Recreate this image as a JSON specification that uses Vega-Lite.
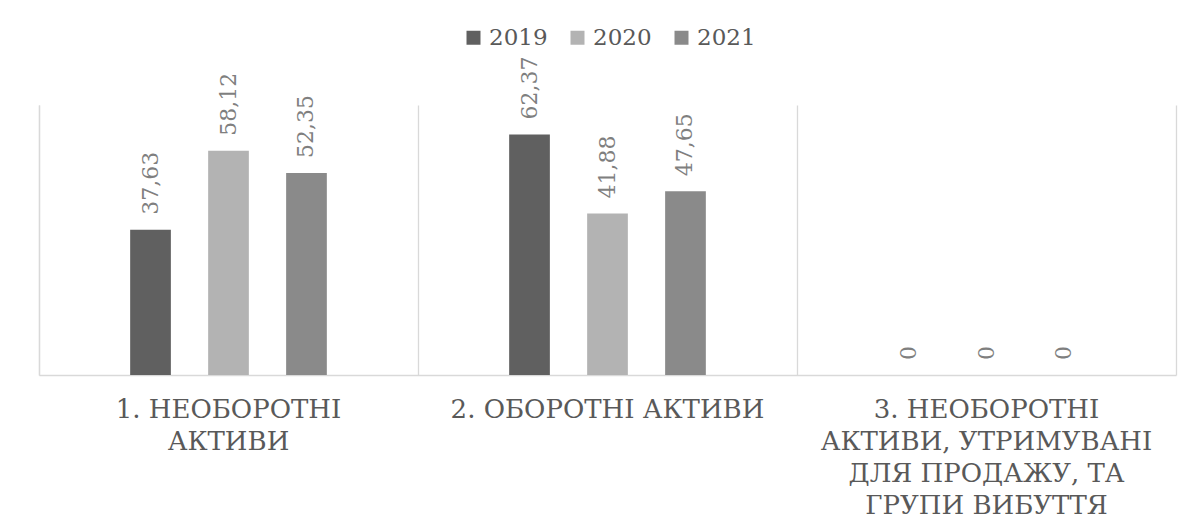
{
  "$schema": "https://vega.github.io/schema/vega-lite/v6.json",
  "width": 1137,
  "height": 270,
  "autosize": {"type": "none"},
  "padding": {"left": 39, "top": 105, "right": 16, "bottom": 156},
  "background": "white",
  "config": {
    "view": {"stroke": null},
    "font": "DejaVu Serif",
    "locale": {"number": {"decimal": ",", "thousands": " ", "grouping": [3], "currency": ["", ""]}}
  },
  "data": {
    "values": [
      {"category": "1. НЕОБОРОТНІ АКТИВИ", "year": "2019", "value": 37.63},
      {"category": "1. НЕОБОРОТНІ АКТИВИ", "year": "2020", "value": 58.12},
      {"category": "1. НЕОБОРОТНІ АКТИВИ", "year": "2021", "value": 52.35},
      {"category": "2. ОБОРОТНІ АКТИВИ", "year": "2019", "value": 62.37},
      {"category": "2. ОБОРОТНІ АКТИВИ", "year": "2020", "value": 41.88},
      {"category": "2. ОБОРОТНІ АКТИВИ", "year": "2021", "value": 47.65},
      {"category": "3. НЕОБОРОТНІ АКТИВИ, УТРИМУВАНІ ДЛЯ ПРОДАЖУ, ТА ГРУПИ ВИБУТТЯ", "year": "2019", "value": 0},
      {"category": "3. НЕОБОРОТНІ АКТИВИ, УТРИМУВАНІ ДЛЯ ПРОДАЖУ, ТА ГРУПИ ВИБУТТЯ", "year": "2020", "value": 0},
      {"category": "3. НЕОБОРОТНІ АКТИВИ, УТРИМУВАНІ ДЛЯ ПРОДАЖУ, ТА ГРУПИ ВИБУТТЯ", "year": "2021", "value": 0}
    ]
  },
  "encoding": {
    "x": {
      "field": "category",
      "type": "nominal",
      "sort": null,
      "scale": {"paddingInner": 0, "paddingOuter": 0},
      "axis": {
        "title": null,
        "labelAngle": 0,
        "labelFont": "DejaVu Serif",
        "labelFontSize": 26,
        "labelColor": "#595959",
        "labelLimit": 400,
        "labelPadding": 21,
        "labelLineHeight": 32,
        "labelBaseline": "top",
        "labelExpr": "datum.label == '1. НЕОБОРОТНІ АКТИВИ' ? ['1. НЕОБОРОТНІ', 'АКТИВИ'] : datum.label == '2. ОБОРОТНІ АКТИВИ' ? '2. ОБОРОТНІ АКТИВИ' : ['3. НЕОБОРОТНІ', 'АКТИВИ, УТРИМУВАНІ', 'ДЛЯ ПРОДАЖУ, ТА', 'ГРУПИ ВИБУТТЯ']",
        "ticks": false,
        "domainColor": "#d9d9d9",
        "domainWidth": 1.3,
        "grid": true,
        "bandPosition": 0,
        "gridColor": "#d9d9d9",
        "gridWidth": 1.3
      }
    },
    "xOffset": {
      "field": "year",
      "type": "nominal",
      "scale": {"domain": ["a", "2019", "2020", "2021", "b"], "paddingInner": 0.478, "paddingOuter": 0.169}
    },
    "y": {
      "field": "value",
      "type": "quantitative",
      "scale": {"domain": [0, 70], "nice": false, "zero": true}
    }
  },
  "layer": [
    {
      "mark": {"type": "bar"},
      "encoding": {
        "y": {
          "field": "value",
          "type": "quantitative",
          "scale": {"domain": [0, 70], "nice": false},
          "axis": {"title": null, "labels": false, "ticks": false, "grid": false, "domainColor": "#d9d9d9", "domainWidth": 1.3}
        },
        "color": {
          "field": "year",
          "type": "nominal",
          "scale": {"domain": ["2019", "2020", "2021"], "range": ["#606060", "#b3b3b3", "#8a8a8a"]},
          "legend": {
            "title": null,
            "orient": "none",
            "direction": "horizontal",
            "legendX": 423,
            "legendY": -79,
            "symbolType": "square",
            "symbolSize": 196,
            "symbolStrokeWidth": 0,
            "symbolOpacity": 1,
            "labelFont": "DejaVu Serif",
            "labelFontSize": 23,
            "labelColor": "#595959",
            "labelOffset": 4,
            "columnPadding": 18
          }
        }
      }
    },
    {
      "mark": {"type": "text", "angle": 270, "align": "left", "baseline": "middle", "dx": 15, "font": "DejaVu Serif", "fontSize": 22, "color": "#7f7f7f"},
      "encoding": {
        "y": {
          "field": "value",
          "type": "quantitative",
          "scale": {"domain": [0, 70], "nice": false},
          "axis": {"title": null, "orient": "right", "labels": false, "ticks": false, "grid": false, "domainColor": "#d9d9d9", "domainWidth": 1.3}
        },
        "text": {"field": "value", "type": "quantitative", "format": ".2~f"}
      }
    }
  ],
  "resolve": {"axis": {"y": "independent"}}
}
